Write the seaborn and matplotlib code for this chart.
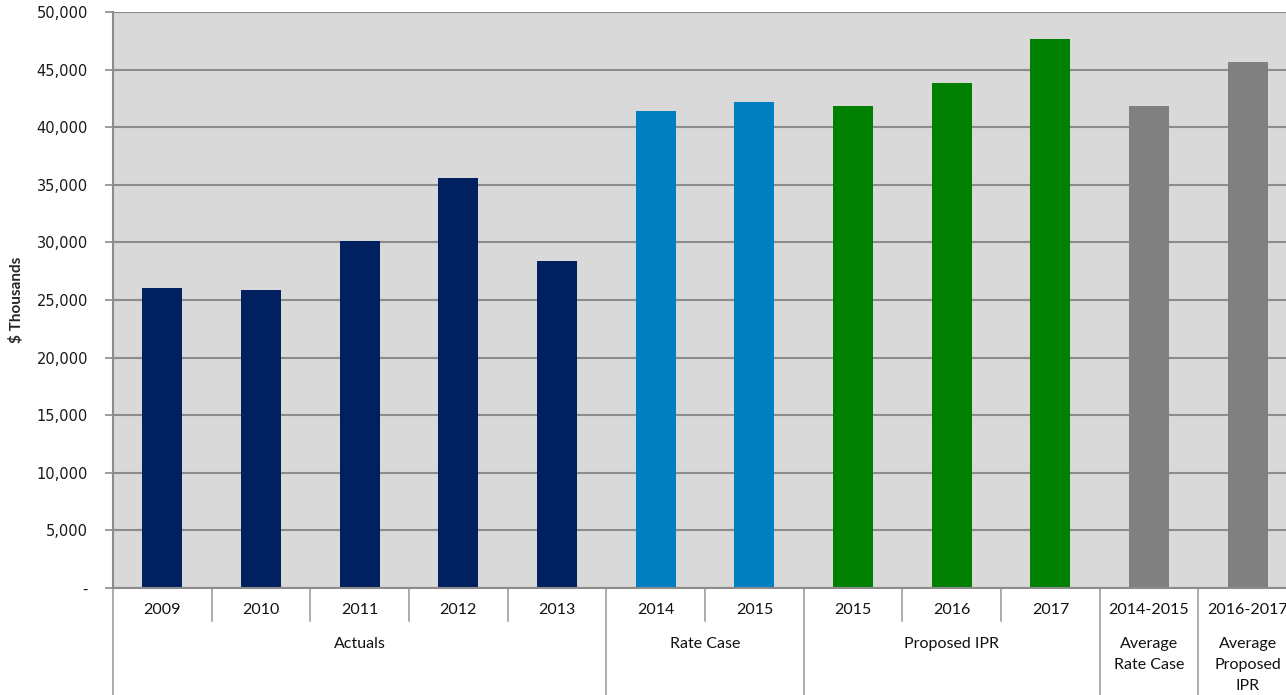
import matplotlib
matplotlib.use("Agg")
import matplotlib.pyplot as plt
import matplotlib.transforms as mtransforms
import seaborn as sns
import pandas as pd

# Data
groups = ["Actuals"] * 5 + ["Rate Case"] * 2 + ["Proposed IPR"] * 3 + ["Average Rate Case", "Average Proposed IPR"]
year_labels = ["2009", "2010", "2011", "2012", "2013", "2014", "2015",
               "2015", "2016", "2017", "2014-2015", "2016-2017"]
values = [26050, 25900, 30120, 35600, 28400, 41400, 42200,
          41850, 43850, 47650, 41800, 45700]
group_titles = ["Actuals", "Rate Case", "Proposed IPR", "Average\nRate Case", "Average\nProposed\nIPR"]
group_sizes = [5, 2, 3, 1, 1]
palette = {
    "Actuals": "#002060",
    "Rate Case": "#0080C0",
    "Proposed IPR": "#008000",
    "Average Rate Case": "#808080",
    "Average Proposed IPR": "#808080",
}

slots = [f"{g}|{y}" for g, y in zip(groups, year_labels)]
df = pd.DataFrame({"slot": slots, "group": groups, "value": values})

sns.set_theme(style="white")
plt.rcParams["font.family"] = ["DejaVu Sans"]

fig = plt.figure(figsize=(12.86, 6.95), dpi=100)
ax = fig.add_axes([113 / 1286, 107 / 695, 1184 / 1286, 576 / 695])
ax.set_facecolor("#D9D9D9")

sns.barplot(data=df, x="slot", y="value", hue="group", order=slots,
            palette=palette, dodge=False, width=0.405, saturation=1,
            linewidth=0, edgecolor="none", legend=False, ax=ax)

ax.set_xlim(-0.5, len(slots) - 0.5)
ax.set_ylim(0, 50000)
yt = list(range(0, 50001, 5000))
ax.set_yticks(yt)
ax.set_yticklabels(["-"] + [f"{v:,}" for v in yt[1:]], fontsize=10.5, color="#1a1a1a")
ax.yaxis.grid(True, color="#8C8C8C", linewidth=1.5)
ax.set_axisbelow(True)
ax.tick_params(axis="y", which="major", length=6, width=1.2, color="#8C8C8C",
               left=True, pad=12)
ax.tick_params(axis="x", bottom=False, labelbottom=False)
ax.set_xlabel("")
ax.set_ylabel("$ Thousands", fontsize=11, fontweight="bold", family="Lato")
ax.yaxis.set_label_coords(-0.075, 0.5)

for s in ["top", "right"]:
    ax.spines[s].set_visible(False)
for s in ["left", "bottom"]:
    ax.spines[s].set_color("#8C8C8C")
    ax.spines[s].set_linewidth(1.5)

# Two-level category axis below the plot
trans = mtransforms.blended_transform_factory(ax.transData, ax.transAxes)
px = 1 / 576  # one pixel in axes-fraction units (vertical)
line_kw = dict(color="#A6A6A6", linewidth=1.3, transform=trans, clip_on=False)

for i, lab in enumerate(year_labels):
    ax.text(i, -22 * px, lab, transform=trans, ha="center", va="center",
            fontsize=11.5, family="Lato", color="#111111")

start = 0
boundaries_long = {-0.5}
for title, n in zip(group_titles, group_sizes):
    center = start + (n - 1) / 2
    ax.text(center, -49 * px, title, transform=trans, ha="center", va="top",
            fontsize=11.5, family="Lato", color="#111111", linespacing=1.62)
    start += n
    boundaries_long.add(start - 0.5)

for b in [i - 0.5 for i in range(len(slots) + 1)]:
    if b in boundaries_long:
        ax.plot([b, b], [0, -110 * px], **line_kw)
    else:
        ax.plot([b, b], [0, -33 * px], **line_kw)

fig.savefig("out.png", dpi=100)
